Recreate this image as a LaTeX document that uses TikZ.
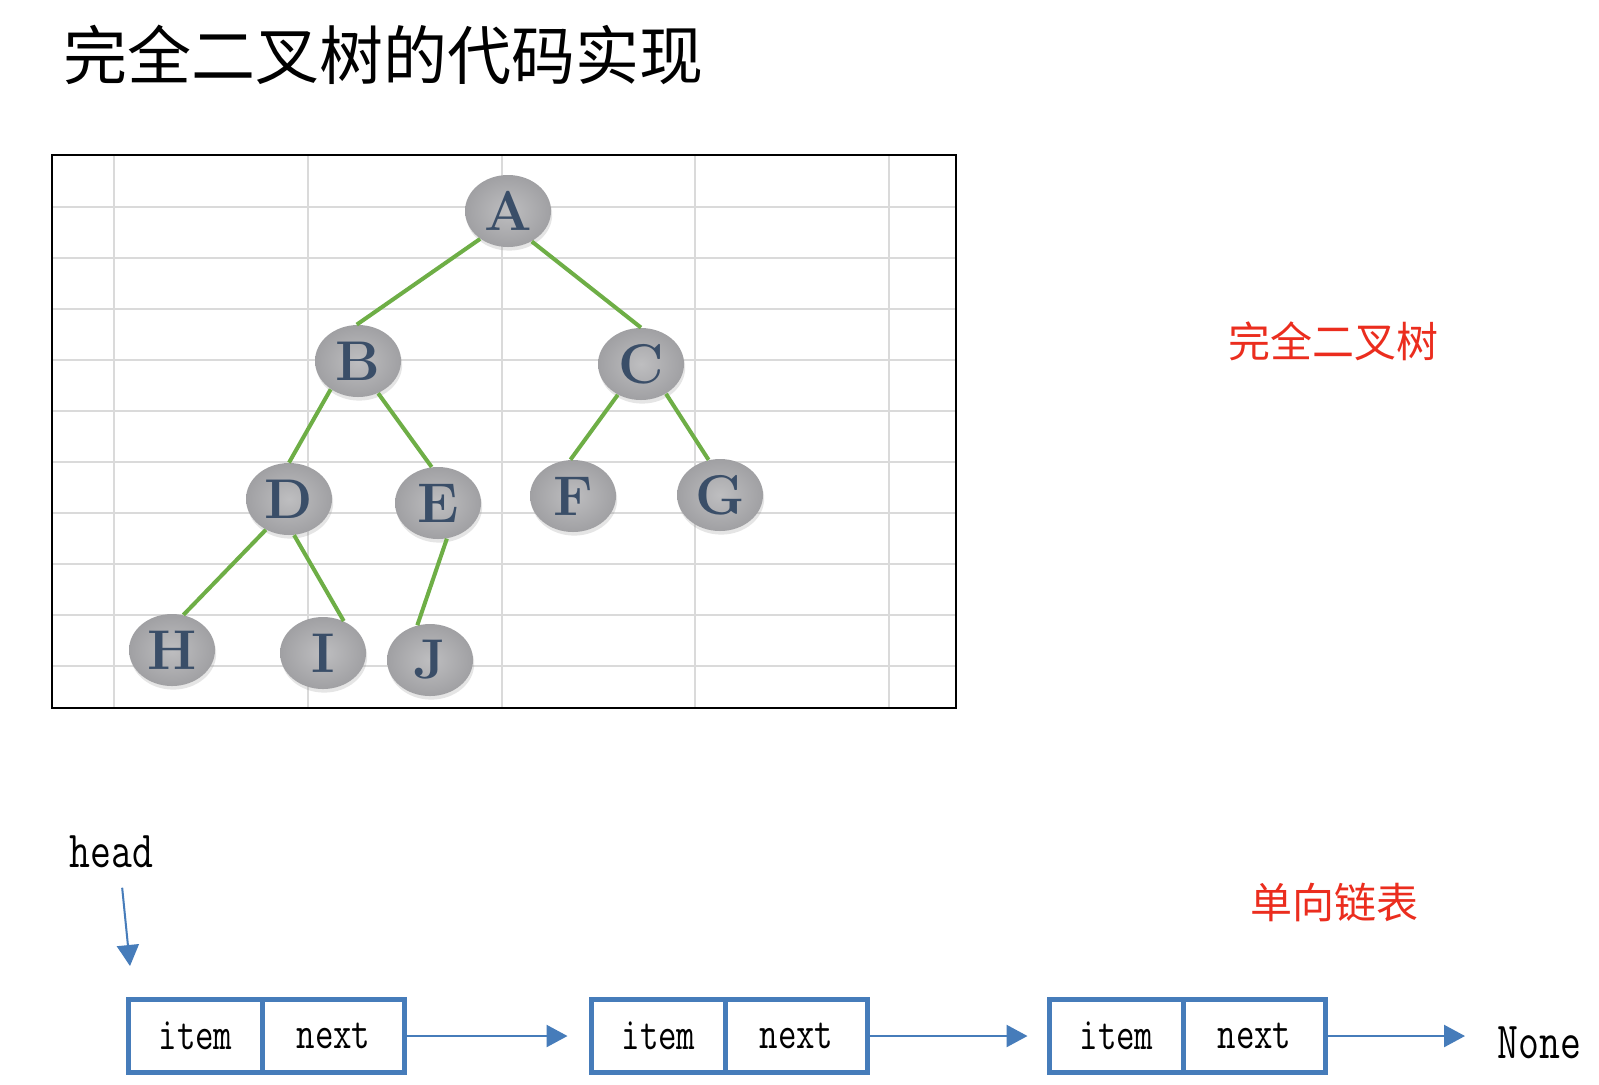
\documentclass[tikz,border=0pt]{standalone}
\usepackage{fontspec}
\usepackage{graphicx}
\usetikzlibrary{arrows.meta,positioning,shapes.geometric,shadows}
\newfontfamily\cjkfont{Noto Sans CJK SC}
\definecolor{lblue}{RGB}{70,124,186}
\definecolor{treegreen}{RGB}{110,174,70}
\definecolor{nodetext}{RGB}{58,78,104}
\definecolor{nodein}{RGB}{190,190,192}
\definecolor{nodeout}{RGB}{160,160,163}
\definecolor{labelred}{RGB}{235,45,30}
\definecolor{gridgray}{RGB}{218,218,218}
\newcommand\narrow[1]{\scalebox{0.78}[1]{#1}}

\begin{document}
\begin{tikzpicture}[x=0.5pt, y=-0.5pt,
	tnode/.style={ellipse, minimum width=43pt, minimum height=36pt, inner sep=0pt, inner color=nodein, outer color=nodeout, drop shadow={shadow xshift=0.6pt, shadow yshift=-1.8pt, opacity=0.2}, text=nodetext, font=\fontsize{28}{28}\selectfont\bfseries},
	tedge/.style={draw=treegreen, line width=2pt},
	cell/.style={draw=lblue, line width=2.5pt, minimum height=36.5pt, inner sep=0pt, outer sep=0pt, font=\ttfamily\fontsize{23}{23}\selectfont},
	link/.style={draw=lblue, line width=1.2pt, -{Triangle[length=10.5pt, width=11pt]}},
	redlabel/.style={text=labelred, font=\cjkfont\fontsize{21}{21}\selectfont}]
	\fill[white] (0,0) rectangle (1599,1084);
	\useasboundingbox (0,0) rectangle (1599,1084);
	\node[anchor=west, inner sep=0pt, font=\cjkfont\fontsize{32}{32}\selectfont] (title) at (63,55) {完全二叉树的代码实现};
	\foreach \x in {114,308,502,695,889} {\draw[gridgray, line width=1pt] (\x,156) -- (\x,707);}
	\foreach \y in {207,258,309,360,411,462,513,564,615,666} {\draw[gridgray, line width=1pt] (53,\y) -- (955,\y);}
	\draw[line width=1pt] (52,155) rectangle (956,708);
	\foreach \n/\x/\y in {A/508/211,B/358/361,C/641/364,D/289/499,E/438/503,F/573/496,G/720/495,H/172/650,I/323/653,J/430/660} {\node[tnode] (\n) at (\x,\y) {\n};}
	\foreach \a/\b in {A.225/B.92,A.-52/C.90,B.226/D.90,B.-58/E.100,C.233/F.94,C.-50/G.108,D.233/H.72,D.-82/I.57,E.-76/J.110} {\draw[tedge] (\a) -- (\b);}
	\node[redlabel] (treelabel) at (1333,341) {完全二叉树};
	\node[redlabel] (listlabel) at (1334,902) {单向链表};
	\node[anchor=base west, inner sep=0pt, font=\ttfamily\fontsize{26}{26}\selectfont] (head) at (69,867) {\narrow{head}};
	\coordinate (headtip) at (130,966);
	\draw[link, line width=1pt] ([xshift=5.5pt,yshift=-10pt]head.south) -- (headtip);
	\foreach \i/\x in {1/128.5,2/591.5,3/1049.5} {
		\node[cell, minimum width=67pt, anchor=west] (item\i) at (\x,1036) {\narrow{item}};
		\node[cell, minimum width=71pt, right=0pt of item\i] (next\i) {\narrow{next}};
	}
	\node[anchor=base west, inner sep=0pt, font=\ttfamily\fontsize{26}{26}\selectfont] (none) at (1497,1058) {\narrow{None}};
	\draw[link] (next1.east) -- ([xshift=-12pt]item2.west);
	\draw[link] (next2.east) -- ([xshift=-11pt]item3.west);
	\draw[link] (next3.east) -- ([xshift=-16pt]none.west |- next3.east);
\end{tikzpicture}
\end{document}
